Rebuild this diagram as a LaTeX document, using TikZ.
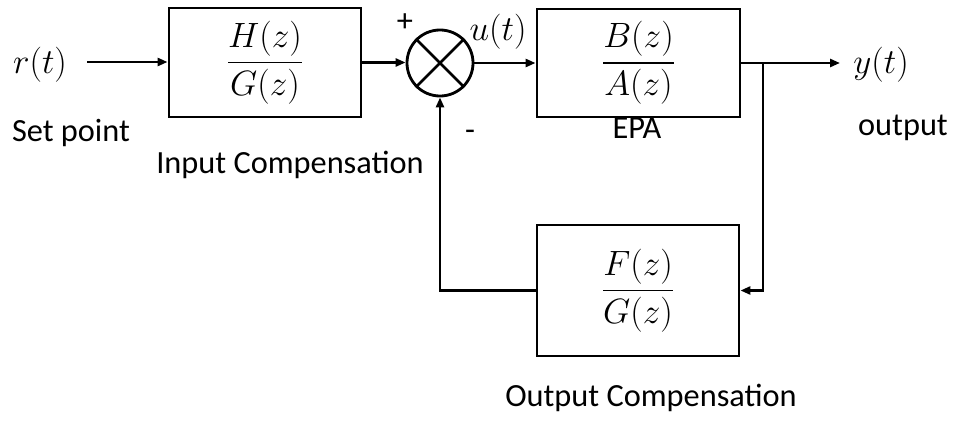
\RequirePackage{fix-cm}
\documentclass[tikz,border=0pt]{standalone}
\usepackage{amsmath}
\usepackage{fontspec}
\setmainfont{Carlito}
\usetikzlibrary{arrows.meta,calc,positioning}

\begin{document}
\begin{tikzpicture}[x=0.025cm, y=-0.025cm,
    blk/.style={draw, line width=2pt, inner sep=0pt, font=\fontsize{25}{30}\selectfont},
    sig/.style={line width=2pt, -{Triangle[length=0.25cm, width=0.2cm]}},
    txt/.style={font=\fontsize{23}{27}\selectfont, inner sep=0pt},
    mth/.style={font=\fontsize{25}{30}\selectfont, inner sep=0pt}]
\useasboundingbox (0,0) rectangle (957,420);
% blocks
\node[blk, minimum width=4.8cm, minimum height=2.725cm] (hg) at (265,62.5) {$\dfrac{H(z)}{G(z)}$};
\node[blk, circle, minimum size=1.65cm] (sum) at (440,63) {};
\draw[line width=2pt] (sum.north west) -- (sum.south east) (sum.north east) -- (sum.south west);
\node[blk, minimum width=5.075cm, minimum height=2.7cm] (ba) at (638.5,63) {$\dfrac{B(z)}{A(z)}$};
\node[blk, minimum width=5.05cm, minimum height=3.275cm] (fg) at (638,290.5) {$\dfrac{F(z)}{G(z)}$};
% signals
\node[mth] (rt) at (40,65) {$r(t)$};
\node[mth] (yt) at (881,65) {$y(t)$};
\node[mth] (ut) at (498,32) {$u(t)$};
\coordinate (rin) at (87,62);
\coordinate (yout) at (840,63);
\coordinate (br) at (763,63);
\draw[sig] (rin) -- (rin -| hg.west);
\draw[sig] (hg.east) -- (hg.east -| sum.west);
\draw[sig] (sum.east) -- (sum.east -| ba.west);
\draw[sig] (ba.east) -- (yout);
\draw[sig] (br) |- (fg.east);
\draw[sig] (fg.west) -| (sum.south);
% labels
\node[txt] (plus) at (405,23) {+};
\node[txt] (minus) at (470,135) {-};
\node[txt] (setpt) at (71,133) {Set point};
\node[txt] (incomp) at (290,165) {Input Compensation};
\node[txt] (epa) at (637,128) {EPA};
\node[txt] (outlbl) at (903,128) {output};
\node[txt] (outcomp) at (651,398) {Output Compensation};
\end{tikzpicture}
\end{document}
